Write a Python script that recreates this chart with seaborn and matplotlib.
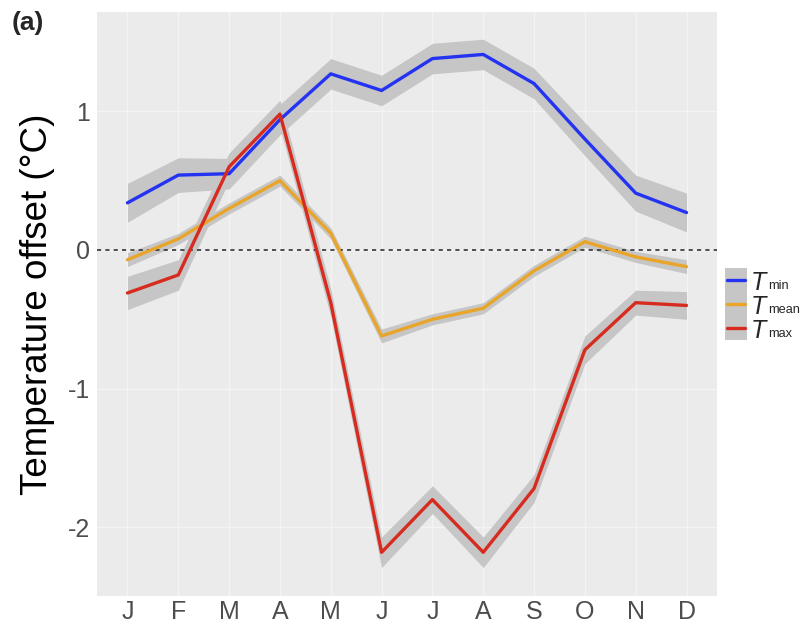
import numpy as np
import pandas as pd
import matplotlib
matplotlib.use("Agg")
import matplotlib.pyplot as plt
import seaborn as sns
from matplotlib.lines import Line2D
from matplotlib.patches import Rectangle

months = ["J", "F", "M", "A", "M", "J", "J", "A", "S", "O", "N", "D"]
month_idx = list(range(1, 13))

t_min = [0.34, 0.54, 0.55, 0.94, 1.27, 1.15, 1.38, 1.41, 1.20, 0.80, 0.41, 0.27]
t_mean = [-0.07, 0.08, 0.30, 0.50, 0.12, -0.62, -0.50, -0.42, -0.15, 0.06, -0.05, -0.12]
t_max = [-0.31, -0.18, 0.60, 0.98, -0.38, -2.18, -1.80, -2.18, -1.72, -0.72, -0.38, -0.40]

se_min = [0.14, 0.125, 0.11, 0.11, 0.11, 0.11, 0.11, 0.11, 0.11, 0.12, 0.13, 0.14]
se_mean = [0.05, 0.04, 0.04, 0.04, 0.04, 0.05, 0.04, 0.04, 0.04, 0.04, 0.04, 0.05]
se_max = [0.12, 0.11, 0.10, 0.10, 0.10, 0.11, 0.10, 0.11, 0.10, 0.10, 0.09, 0.10]

series_names = ["min", "mean", "max"]
series_colors = ["#2433F2", "#E8A52A", "#D62B1E"]

frames = []
for name, vals, se in zip(series_names, [t_min, t_mean, t_max], [se_min, se_mean, se_max]):
    frames.append(pd.DataFrame({"month": month_idx, "offset": vals, "se": se, "var": name}))
df = pd.concat(frames, ignore_index=True)

sns.set_theme(style="darkgrid", rc={
    "axes.facecolor": "#EBEBEB",
    "grid.color": "#F4F4F4",
    "grid.linewidth": 1.0,
})
plt.rcParams["font.family"] = ["Liberation Sans", "DejaVu Sans"]

W, H = 802, 625
fig = plt.figure(figsize=(W / 100, H / 100), dpi=100)
ax = fig.add_axes([97 / W, 1 - 596 / H, 620 / W, 584 / H])

# confidence ribbons first, then the mean lines on top
for name in series_names:
    sub = df[df["var"] == name]
    ax.fill_between(sub["month"], sub["offset"] - sub["se"], sub["offset"] + sub["se"],
                    color="#C6C6C6", linewidth=0, zorder=2)

ax.axhline(0, color="#333333", linestyle=(0, (2.5, 2.5)), linewidth=1.2, zorder=2.5)

sns.lineplot(data=df, x="month", y="offset", hue="var", hue_order=series_names,
             palette=series_colors, linewidth=2.4, ax=ax, legend=False, zorder=3)

ax.set_xlim(0.4, 12.6)
ax.set_ylim(-2.495, 1.716)
ax.set_xticks(month_idx)
ax.set_xticklabels(months)
ax.set_yticks([-2, -1, 0, 1])
ax.set_yticklabels(["-2", "-1", "0", "1"])
ax.tick_params(axis="both", labelsize=18, labelcolor="#4D4D4D", color="#4D4D4D",
               length=2.2, width=0.8)
ax.tick_params(axis="y", pad=3)
ax.tick_params(axis="x", pad=0.5)
ax.set_xlabel("")
ax.set_ylabel("Temperature offset (°C)", fontsize=26.5, color="black", labelpad=9)
for s in ax.spines.values():
    s.set_visible(False)

# legend: grey ribbon keys with coloured line, italic T with small subscript
def fx(px):
    return px / W

def fy(py):
    return 1 - py / H

key_left, key_right = 725, 747
row_top, row_h = 268, 24
fig.add_artist(Rectangle((fx(key_left), fy(row_top + 3 * row_h)), fx(key_right) - fx(key_left),
                         fy(row_top) - fy(row_top + 3 * row_h), transform=fig.transFigure,
                         facecolor="#C6C6C6", edgecolor="none"))
for i, (name, c) in enumerate(zip(series_names, series_colors)):
    yc = row_top + 12 + i * row_h
    fig.add_artist(Line2D([fx(key_left + 2), fx(key_right - 2)], [fy(yc), fy(yc)],
                          transform=fig.transFigure, color=c, linewidth=2.4))
    fig.text(fx(751), fy(yc + 10), "T", fontsize=18, fontstyle="italic",
             va="baseline", ha="left")
    fig.text(fx(768), fy(yc + 9), name, fontsize=9.2, va="baseline", ha="left")

fig.text(0.014, 0.982, "(a)", fontsize=19, fontweight="bold", va="top", ha="left")

fig.savefig("out.png", dpi=100)
